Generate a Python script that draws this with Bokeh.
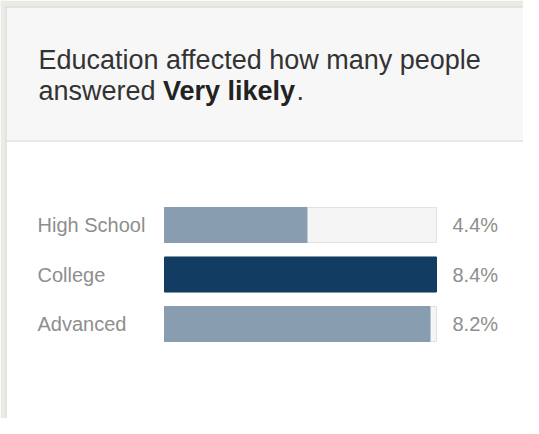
from bokeh.plotting import figure
from bokeh.models import Range1d, ColumnDataSource
from bokeh.core.properties import value
from bokeh.embed import file_html
from bokeh.resources import INLINE

# ---- data ----
categories = ["High School", "College", "Advanced"]
values = [4.4, 8.4, 8.2]
value_labels = ["4.4%", "8.4%", "8.2%"]
title_line1 = "Education affected how many people"
title_line2_a = "answered "
title_line2_b = "Very likely"
title_line2_c = "."

# ---- layout constants (pixels inside the figure) ----
W, H = 523, 418
BAR_X0, BAR_X1 = 164, 436          # where 0 and the max value land
ROW0, ROW_STEP = 224.5, 49.5       # centre of first row, row spacing
BAR_H = 35 / ROW_STEP

vmax = max(values)
sx = (BAR_X1 - BAR_X0) / vmax
x0 = -BAR_X0 / sx
x_range = Range1d(x0, x0 + W / sx)
y_range = Range1d((H - ROW0) / ROW_STEP, -ROW0 / ROW_STEP)


def fx(px):
    return x0 + px / sx


def fy(py):
    return (py - ROW0) / ROW_STEP


p = figure(width=W, height=H, x_range=x_range, y_range=y_range,
           output_backend="svg", toolbar_location=None,
           min_border=0, background_fill_color="white",
           border_fill_color="white", outline_line_color=None)
p.xaxis.visible = False
p.yaxis.visible = False
p.grid.visible = False

FONT = value("Liberation Sans")

# outer page tint (left and top strips) and card border
p.quad(left=[fx(0)], right=[fx(5)], top=[fy(0)], bottom=[fy(H)],
       fill_color="#ebebe6", line_color=None)
p.quad(left=[fx(0)], right=[fx(W)], top=[fy(0)], bottom=[fy(6)],
       fill_color="#ebebe6", line_color=None)
# header band
p.quad(left=[fx(5)], right=[fx(W)], top=[fy(6)], bottom=[fy(140)],
       fill_color="#f7f7f7", line_color=None)
p.segment(x0=[fx(5)], x1=[fx(W)], y0=[fy(140.5)], y1=[fy(140.5)],
          line_color="#e0e0e0", line_width=1.5)
p.segment(x0=[fx(5.5)], x1=[fx(5.5)], y0=[fy(6)], y1=[fy(H)],
          line_color="#dcdcdc", line_width=1.5)
p.segment(x0=[fx(5)], x1=[fx(W)], y0=[fy(6.5)], y1=[fy(6.5)],
          line_color="#dcdcdc", line_width=1.5)

# title
TFS = "27px"
TX = 38
p.text(x=[fx(TX)], y=[fy(59)], text=[title_line1], text_font=FONT,
       text_font_size=TFS, text_color="#333333", text_baseline="alphabetic")
p.text(x=[fx(TX)], y=[fy(90)], text=[title_line2_a], text_font=FONT,
       text_font_size=TFS, text_color="#333333", text_baseline="alphabetic")
p.text(x=[fx(TX + 124.5)], y=[fy(90)], text=[title_line2_b], text_font=FONT,
       text_font_size=TFS, text_font_style="bold", text_color="#222222",
       text_baseline="alphabetic")
p.text(x=[fx(TX + 124.5 + 133.6)], y=[fy(90)], text=[title_line2_c], text_font=FONT,
       text_font_size=TFS, text_color="#333333", text_baseline="alphabetic")

# bars
idx = list(range(len(categories)))
colors = ["#123c61" if v == vmax else "#899db0" for v in values]
src = ColumnDataSource(dict(y=idx, v=values, full=[vmax] * len(values),
                            color=colors, zero=[0] * len(values)))

p.hbar(y="y", left="zero", right="full", height=BAR_H, source=src,
       fill_color="#f5f5f5", line_color="#e2e2e2", line_width=1)
p.hbar(y="y", left="zero", right="v", height=BAR_H, source=src,
       fill_color="color", line_color="color", line_width=1)

# category labels and value labels
src_lab = ColumnDataSource(dict(y=idx, cat=categories, lab=value_labels,
                                xc=[fx(37)] * len(idx), xv=[fx(452)] * len(idx)))
p.text(x="xc", y="y", text="cat", source=src_lab, text_font=FONT,
       text_font_size="20px", text_color="#8e8e8e", text_baseline="middle",
       text_align="left")
p.text(x="xv", y="y", text="lab", source=src_lab, text_font=FONT,
       text_font_size="20px", text_color="#8e8e8e", text_baseline="middle",
       text_align="left")

open("out.html", "w").write(file_html(p, INLINE))
